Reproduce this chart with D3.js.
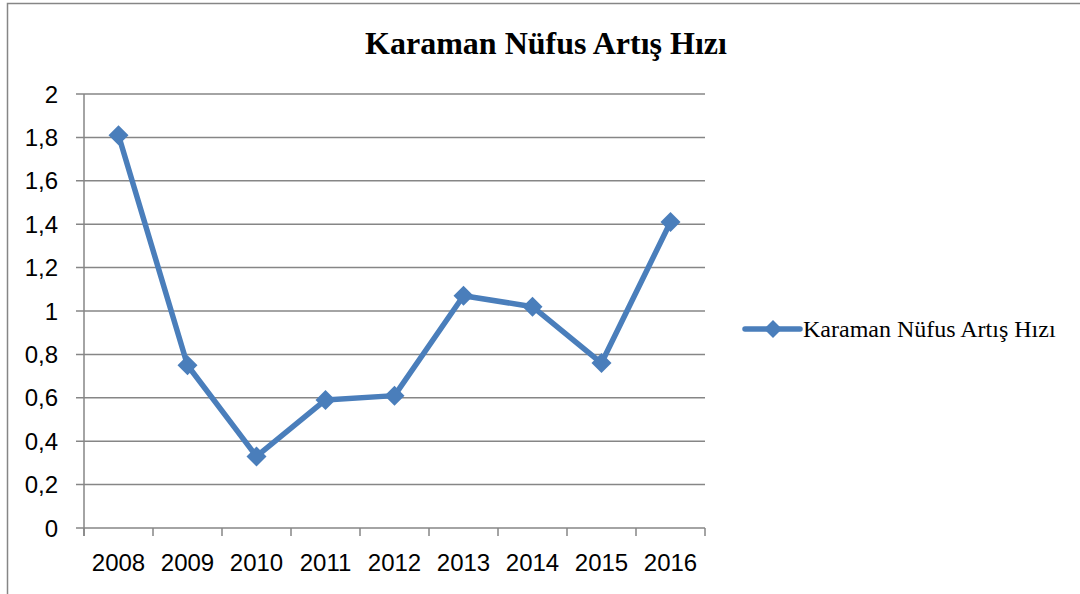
<!DOCTYPE html>
<html>
<head>
<meta charset="utf-8">
<script src="https://cdn.jsdelivr.net/npm/d3@7"></script>
<style>
  body { margin: 0; background: #fff; }
  svg { display: block; }
</style>
</head>
<body>
<svg id="chart" width="1080" height="594"></svg>
<script>
// chart data
const title = "Karaman Nüfus Artış Hızı";
const years = ["2008", "2009", "2010", "2011", "2012", "2013", "2014", "2015", "2016"];
const rates = [1.81, 0.75, 0.33, 0.59, 0.61, 1.07, 1.02, 0.76, 1.41];
const yTicks = [0, 0.2, 0.4, 0.6, 0.8, 1, 1.2, 1.4, 1.6, 1.8, 2];

const svg = d3.select("#chart");
const blue = "#4a7ebb";
const grey = "#868686";

const plot = { left: 84, right: 705, top: 94, bottom: 528 };

// outer frame (only top and left are visible in the crop)
svg.append("path")
  .attr("d", "M7.5,594 V3.5 H1080")
  .attr("fill", "none")
  .attr("stroke", grey)
  .attr("stroke-width", 1.5);

const x = d3.scaleBand().domain(years).range([plot.left, plot.right]);
const y = d3.scaleLinear().domain([0, 2]).range([plot.bottom, plot.top]);

// horizontal grid
svg.append("g")
  .selectAll("line")
  .data(yTicks)
  .enter().append("line")
  .attr("x1", plot.left - 8)
  .attr("x2", plot.right)
  .attr("y1", (d) => y(d))
  .attr("y2", (d) => y(d))
  .attr("stroke", grey)
  .attr("stroke-width", 1.5);

// y axis line
svg.append("line")
  .attr("x1", plot.left).attr("x2", plot.left)
  .attr("y1", plot.top).attr("y2", plot.bottom + 8)
  .attr("stroke", grey).attr("stroke-width", 1.5);

// x axis ticks at band boundaries
const bounds = years.map((d) => x(d)).concat([plot.right]);
svg.append("g")
  .selectAll("line")
  .data(bounds)
  .enter().append("line")
  .attr("x1", (d) => d).attr("x2", (d) => d)
  .attr("y1", plot.bottom).attr("y2", plot.bottom + 8)
  .attr("stroke", grey).attr("stroke-width", 1.5);

// y labels
svg.append("g")
  .selectAll("text")
  .data(yTicks)
  .enter().append("text")
  .attr("x", 58)
  .attr("y", (d) => y(d))
  .attr("dy", "0.36em")
  .attr("text-anchor", "end")
  .attr("font-family", "'Liberation Sans', Arial, sans-serif")
  .attr("font-size", 24)
  .attr("fill", "#000")
  .text((d) => String(d).replace(".", ","));

// x labels
svg.append("g")
  .selectAll("text")
  .data(years)
  .enter().append("text")
  .attr("x", (d) => x(d) + x.bandwidth() / 2)
  .attr("y", 571)
  .attr("text-anchor", "middle")
  .attr("font-family", "'Liberation Sans', Arial, sans-serif")
  .attr("font-size", 24)
  .attr("fill", "#000")
  .text((d) => d);

// series line
const line = d3.line()
  .x((d, i) => x(years[i]) + x.bandwidth() / 2)
  .y((d) => y(d));

svg.append("path")
  .datum(rates)
  .attr("d", line)
  .attr("fill", "none")
  .attr("stroke", blue)
  .attr("stroke-width", 5.5)
  .attr("stroke-linejoin", "round");

const diamond = "M0,-10 L10,0 L0,10 L-10,0 Z";
svg.append("g")
  .selectAll("path")
  .data(rates)
  .enter().append("path")
  .attr("d", diamond)
  .attr("fill", blue)
  .attr("transform", (d, i) => `translate(${x(years[i]) + x.bandwidth() / 2},${y(d)})`);

// title
svg.append("text")
  .attr("x", 546)
  .attr("y", 54)
  .attr("text-anchor", "middle")
  .attr("font-family", "'Liberation Serif', 'Times New Roman', serif")
  .attr("font-weight", "bold")
  .attr("font-size", 32)
  .attr("fill", "#000")
  .text(title);

// legend
const legend = svg.append("g").attr("transform", "translate(745,329)");
legend.append("line")
  .attr("x1", 0).attr("x2", 55)
  .attr("y1", 0).attr("y2", 0)
  .attr("stroke", blue).attr("stroke-width", 5.5)
  .attr("stroke-linecap", "round");
legend.append("path")
  .attr("d", "M0,-9 L9,0 L0,9 L-9,0 Z")
  .attr("transform", "translate(28,0)")
  .attr("fill", blue);
legend.append("text")
  .attr("x", 58)
  .attr("y", 0)
  .attr("dy", "0.33em")
  .attr("font-family", "'Liberation Serif', 'Times New Roman', serif")
  .attr("font-size", 24)
  .attr("fill", "#000")
  .text(title);
</script>
</body>
</html>
